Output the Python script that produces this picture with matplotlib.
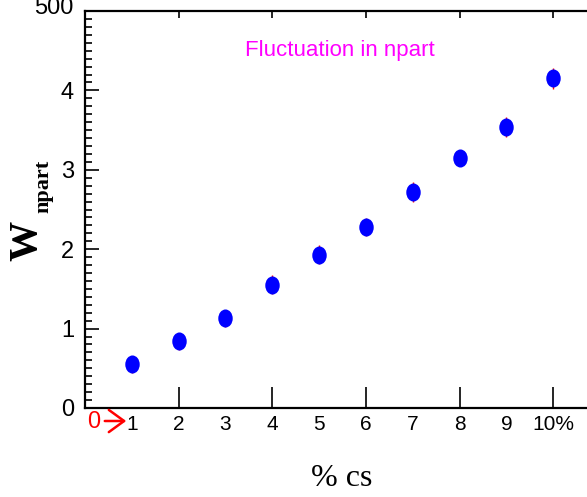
import matplotlib
matplotlib.use("Agg")
from matplotlib import pyplot as plt
from matplotlib.path import Path
from matplotlib.transforms import Affine2D, ScaledTranslation
from matplotlib.ticker import MultipleLocator

# data
cs_percent = [1, 2, 3, 4, 5, 6, 7, 8, 9, 10]
w_npart = [0.55, 0.84, 1.13, 1.55, 1.93, 2.28, 2.72, 3.15, 3.54, 4.15]
w_err = [0.11, 0.11, 0.11, 0.12, 0.12, 0.11, 0.13, 0.1, 0.13, 0.13]
xtick_labels = ["1", "2", "3", "4", "5", "6", "7", "8", "9", "10%"]
ytick_values = [0, 1, 2, 3, 4, 5]
ytick_labels = ["0", "1", "2", "3", "4", "500"]

W, H = 587, 497
fig = plt.figure(figsize=(W / 100, H / 100), dpi=100)
sans = ["Liberation Sans", "DejaVu Sans"]

# axes runs past the right edge of the figure, like the reference
x0, y0, x1, y1 = 85, 408, 600, 11
ax = fig.add_axes([x0 / W, 1 - y0 / H, (x1 - x0) / W, (y0 - y1) / H])
ax.set_xlim(0, 11.0)
ax.set_ylim(0, 5)

# slightly tall ellipse, as in the reference
oval = Path.unit_circle().transformed(Affine2D().scale(0.8, 1.0))

ax.errorbar(cs_percent, w_npart, yerr=w_err, fmt="none", ecolor="red",
            elinewidth=1.0, capsize=0, zorder=2)
ax.plot(cs_percent, w_npart, linestyle="none", marker=oval, color="blue",
        markersize=13, markeredgewidth=0, zorder=3)

for s in ax.spines.values():
    s.set_linewidth(1.6)

ax.set_xticks(cs_percent)
ax.set_xticklabels(xtick_labels, family=sans, fontsize=15)
ax.tick_params(axis="x", direction="in", length=15, width=1.2,
               top=True, pad=5)
for v, t in zip(cs_percent, ax.xaxis.get_major_ticks()):
    t.tick2line.set_markersize(5)
    if v % 2:
        t.tick1line.set_visible(False)
        t.tick2line.set_visible(False)

ax.set_yticks(ytick_values)
ax.set_yticklabels(ytick_labels, family=sans, fontsize=17)
ax.yaxis.set_minor_locator(MultipleLocator(0.1))
ax.tick_params(axis="y", which="major", direction="in", length=10,
               width=1.2, pad=8)
ax.tick_params(axis="y", which="minor", direction="in", length=5, width=1.2)
# top label sits partly above the figure edge in the reference
top_lab = ax.get_yticklabels()[-1]
top_lab.set_transform(top_lab.get_transform()
                      + ScaledTranslation(0, 6 / 100, fig.dpi_scale_trans))

# title inside the plot
ax.text(0.495, 0.9, "Fluctuation in npart", transform=ax.transAxes,
        ha="center", va="center", color="magenta", fontsize=16, family=sans)

# red "0 ->" marker at the origin
fig.text(93.5 / W, 1 - 421.5 / H, "0", color="red", fontsize=17, family=sans,
         ha="center", va="center")
fig.add_artist(matplotlib.patches.FancyArrowPatch(
    (102 / W, 1 - 421 / H), (129 / W, 1 - 421 / H),
    transform=fig.transFigure, arrowstyle="->,head_length=11,head_width=8",
    color="red", linewidth=1.8))

# axis labels
fig.text(27 / W, 1 - 241 / H, "W", rotation=90, fontsize=29,
         fontweight="bold", family="Liberation Serif", ha="center", va="center")
fig.text(43 / W, 1 - 186 / H, "npart", rotation=90, fontsize=16,
         fontweight="bold", family="Liberation Serif", ha="center", va="center")
fig.text(342 / W, 1 - 478 / H, "% cs", fontsize=23,
         family="Liberation Serif", ha="center", va="center")

fig.savefig("out.png", dpi=100)
